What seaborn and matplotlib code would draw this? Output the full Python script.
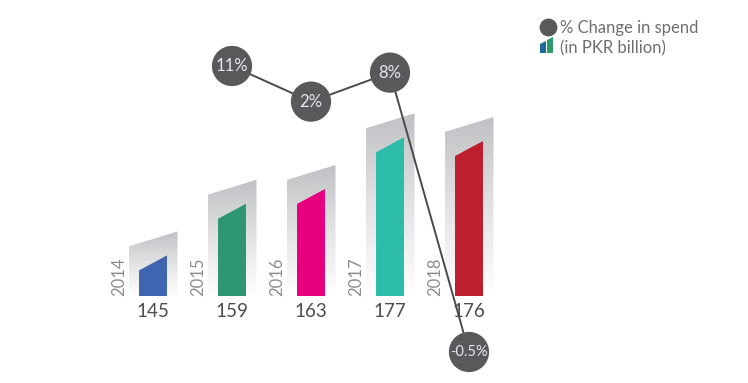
import numpy as np
import pandas as pd
import matplotlib
matplotlib.use("Agg")
import matplotlib.pyplot as plt
from matplotlib.patches import Polygon
from matplotlib.colors import LinearSegmentedColormap
import seaborn as sns

# data
years = ["2014", "2015", "2016", "2017", "2018"]
spend = [145, 159, 163, 177, 176]
bar_colors = ["#3f64b0", "#2e9670", "#e6007e", "#2ebcaa", "#be1e2d"]
change_years = ["2015", "2016", "2017", "2018"]
pct_change = [11, 2, 8, -0.5]
change_labels = ["11%", "2%", "8%", "-0.5%"]

sns.set_theme(style="white")
plt.rcParams["font.family"] = ["Lato", "DejaVu Sans"]

W, H = 748, 383
fig = plt.figure(figsize=(W / 100, H / 100), dpi=100)


def fx(px):
    return px / W


def fy(py):
    return 1 - py / H


# layout (pixels)
base_px = 296          # bar baseline
x0_px, step_px = 153, 79
BASE = 134             # value at baseline
PXU = 3.69             # pixels per PKR billion
PAD = 6.5              # backdrop above bar
SLANT = 15 / PXU       # slanted top
xlim = (-x0_px / step_px, (W - x0_px) / step_px)

df = pd.DataFrame({"year": years, "spend": spend})
df["backdrop"] = df["spend"] + PAD

ax = fig.add_axes([0, fy(base_px), 1, base_px / H])
ax.set_facecolor("none")

# grey backdrops
sns.barplot(data=df, x="year", y="backdrop", color="#bbbcbf", width=0.62,
            errorbar=None, linewidth=0, ax=ax)
grey_rects = list(ax.patches)
# coloured bars
sns.barplot(data=df, x="year", y="spend", hue="year", palette=bar_colors,
            saturation=1, width=0.354, errorbar=None, linewidth=0,
            legend=False, ax=ax)
col_rects = [p for p in ax.patches if p not in grey_rects]

grey_cmap = LinearSegmentedColormap.from_list("g", ["#ffffff", "#e2e3e4", "#c0c1c4"])
grad = np.linspace(0, 1, 256).reshape(-1, 1)

for r in grey_rects:
    xl, w, top = r.get_x(), r.get_width(), r.get_height()
    r.remove()
    poly = Polygon([(xl, BASE), (xl, top - SLANT), (xl + w, top), (xl + w, BASE)],
                   closed=True, facecolor="none", edgecolor="none")
    ax.add_patch(poly)
    im = ax.imshow(grad, extent=[xl, xl + w, BASE, top], aspect="auto",
                   cmap=grey_cmap, origin="lower", zorder=1, interpolation="bilinear")
    im.set_clip_path(poly)

for r in col_rects:
    xl, w, top = r.get_x(), r.get_width(), r.get_height()
    fc = r.get_facecolor()
    r.remove()
    ax.add_patch(Polygon([(xl, BASE), (xl, top - SLANT), (xl + w, top), (xl + w, BASE)],
                         closed=True, facecolor=fc, edgecolor="none", zorder=2))

for i, (yr, v) in enumerate(zip(years, spend)):
    ax.text(i - 34 / step_px, BASE, yr, rotation=90, ha="center", va="bottom",
            fontsize=12, color="#8a8d93")
    ax.text(i, BASE - 16 / PXU, str(v), ha="center", va="center",
            fontsize=13.5, color="#4d4d4f")

ax.set_xlim(*xlim)
ax.set_ylim(BASE, BASE + base_px / PXU)
ax.axis("off")

# % change line
ax2 = fig.add_axes([0, 0, 1, 1])
ax2.set_facecolor("none")
a = 0.005
ax2.set_yscale("asinh", linear_width=a)


def t(v):
    return a * np.arcsinh(v / a)


def inv(u):
    return a * np.sinh(u / a)


top_px, bot_px = 66, 352
ppu = (bot_px - top_px) / (t(max(pct_change)) - t(min(pct_change)))
ax2.set_ylim(inv(t(min(pct_change)) - (H - bot_px) / ppu),
             inv(t(max(pct_change)) + top_px / ppu))

cx = [years.index(y) for y in change_years]
sns.lineplot(x=cx, y=pct_change, color="#4a4a4c", linewidth=1.4, ax=ax2, zorder=3)
sns.scatterplot(x=cx, y=pct_change, s=840, color="#58595b", edgecolor="none",
                ax=ax2, zorder=4)
for xi, yi, lab in zip(cx, pct_change, change_labels):
    ax2.text(xi, yi, lab, ha="center", va="center",
             fontsize=10.5 if len(lab) > 3 else 12,
             color="#e6e6ee", zorder=5)
ax2.set_xlim(*xlim)
ax2.axis("off")

# legend
ax2.scatter([fx(548)], [fy(27)], s=140, color="#58595b", transform=fig.transFigure,
            clip_on=False, zorder=5)
fig.text(fx(560), fy(28), "% Change in spend", ha="left", va="center",
         fontsize=12, color="#6d6e71")
fig.patches.append(Polygon([(fx(540), fy(53)), (fx(540), fy(44)), (fx(546), fy(41)), (fx(546), fy(53))],
                           closed=True, facecolor="#1c6b9e", edgecolor="none",
                           transform=fig.transFigure, figure=fig))
fig.patches.append(Polygon([(fx(547), fy(53)), (fx(547), fy(40)), (fx(553), fy(37)), (fx(553), fy(53))],
                           closed=True, facecolor="#2e9a6e", edgecolor="none",
                           transform=fig.transFigure, figure=fig))
fig.text(fx(560), fy(48), "(in PKR billion)", ha="left", va="center",
         fontsize=12, color="#6d6e71")

fig.savefig("out.png", dpi=100)
